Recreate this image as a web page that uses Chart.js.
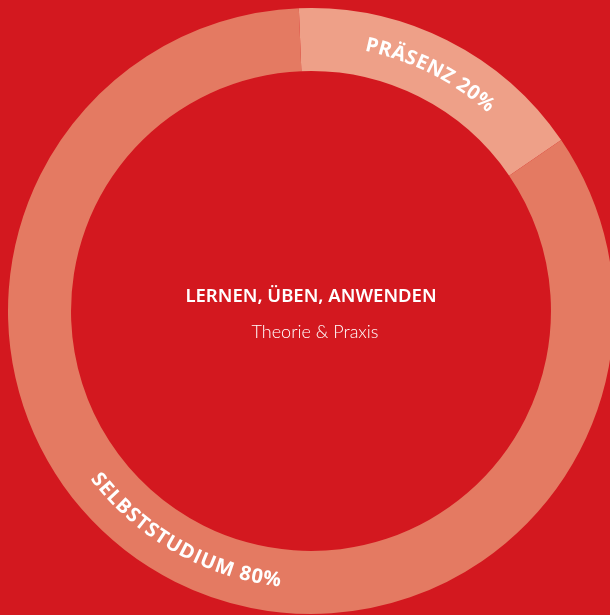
<!DOCTYPE html>
<html lang="de">
<head>
<meta charset="utf-8">
<title>Lernen, Üben, Anwenden</title>
<script src="https://cdn.jsdelivr.net/npm/chart.js@4.4.0/dist/chart.umd.min.js"></script>
<style>
  html, body { margin: 0; padding: 0; width: 610px; height: 615px; overflow: hidden; background: #d3181f; }
  #wrap { position: absolute; left: 0; top: 0; width: 622px; height: 622px; }
</style>
</head>
<body>
<div id="wrap"><canvas id="studyChart" width="622" height="622"></canvas></div>
<script>
// Data
const categories = ['PRÄSENZ', 'SELBSTSTUDIUM'];
const shares = [16.1, 83.9];            // arc sizes as drawn
const percentLabels = ['20%', '80%'];    // percentages printed on the ring
const segmentColors = ['#eea088', '#e47a62'];
const centerTitle = 'LERNEN, ÜBEN, ANWENDEN';
const centerSubtitle = 'Theorie & Praxis';

// Draw text along the ring, centred on each arc
const ringLabels = {
  id: 'ringLabels',
  afterDatasetsDraw(chart) {
    const ctx = chart.ctx;
    const arcs = chart.getDatasetMeta(0).data;
    ctx.save();
    ctx.fillStyle = '#ffffff';
    ctx.font = 'bold 20px "Open Sans"';
    ctx.textAlign = 'center';
    ctx.textBaseline = 'middle';
    arcs.forEach((arc, i) => {
      const { x, y, startAngle, endAngle, innerRadius, outerRadius } = arc.getProps(['x', 'y', 'startAngle', 'endAngle', 'innerRadius', 'outerRadius'], true);
      const r = (innerRadius + outerRadius) / 2;
      const mid = (startAngle + endAngle) / 2 + (i === 1 ? 0.05 : 0);
      const text = categories[i] + ' ' + percentLabels[i];
      const spacing = 0.7;
      const widths = [...text].map(c => ctx.measureText(c).width + spacing);
      const total = widths.reduce((a, b) => a + b, 0);
      // canvas angle: 0 = right; bottom half reads counter-clockwise
      let norm = (mid + Math.PI / 2) % (2 * Math.PI);
      if (norm < 0) norm += 2 * Math.PI;
      const bottom = norm > Math.PI / 2 && norm < Math.PI * 1.5;
      const dir = bottom ? -1 : 1;
      let a = mid - dir * (total / 2) / r;
      [...text].forEach((c, k) => {
        const half = widths[k] / 2 / r;
        a += dir * half;
        ctx.save();
        ctx.translate(x + r * Math.cos(a), y + r * Math.sin(a));
        ctx.rotate(a + (bottom ? -Math.PI / 2 : Math.PI / 2));
        ctx.fillText(c, 0, 0);
        ctx.restore();
        a += dir * half;
      });
    });
    ctx.restore();
  }
};

const centerText = {
  id: 'centerText',
  afterDraw(chart) {
    const ctx = chart.ctx;
    const arc = chart.getDatasetMeta(0).data[0];
    ctx.save();
    ctx.fillStyle = '#ffffff';
    ctx.textAlign = 'center';
    ctx.textBaseline = 'alphabetic';
    ctx.font = '600 18.5px "Noto Sans"';
    ctx.fillText(centerTitle, arc.x, arc.y - 9);
    ctx.font = '300 18px Lato';
    ctx.fillText(centerSubtitle, arc.x + 4, arc.y + 27);
    ctx.restore();
  }
};

new Chart(document.getElementById('studyChart'), {
  type: 'doughnut',
  data: {
    labels: categories,
    datasets: [{
      data: shares,
      backgroundColor: segmentColors,
      borderWidth: 0,
      hoverBorderWidth: 0,
      hoverOffset: 0
    }]
  },
  options: {
    responsive: false,
    animation: false,
    events: [],
    rotation: -2.3,
    cutout: '79.2%',
    layout: { padding: 8 },
    plugins: {
      legend: { display: false },
      tooltip: { enabled: false }
    }
  },
  plugins: [ringLabels, centerText]
});
</script>
</body>
</html>
